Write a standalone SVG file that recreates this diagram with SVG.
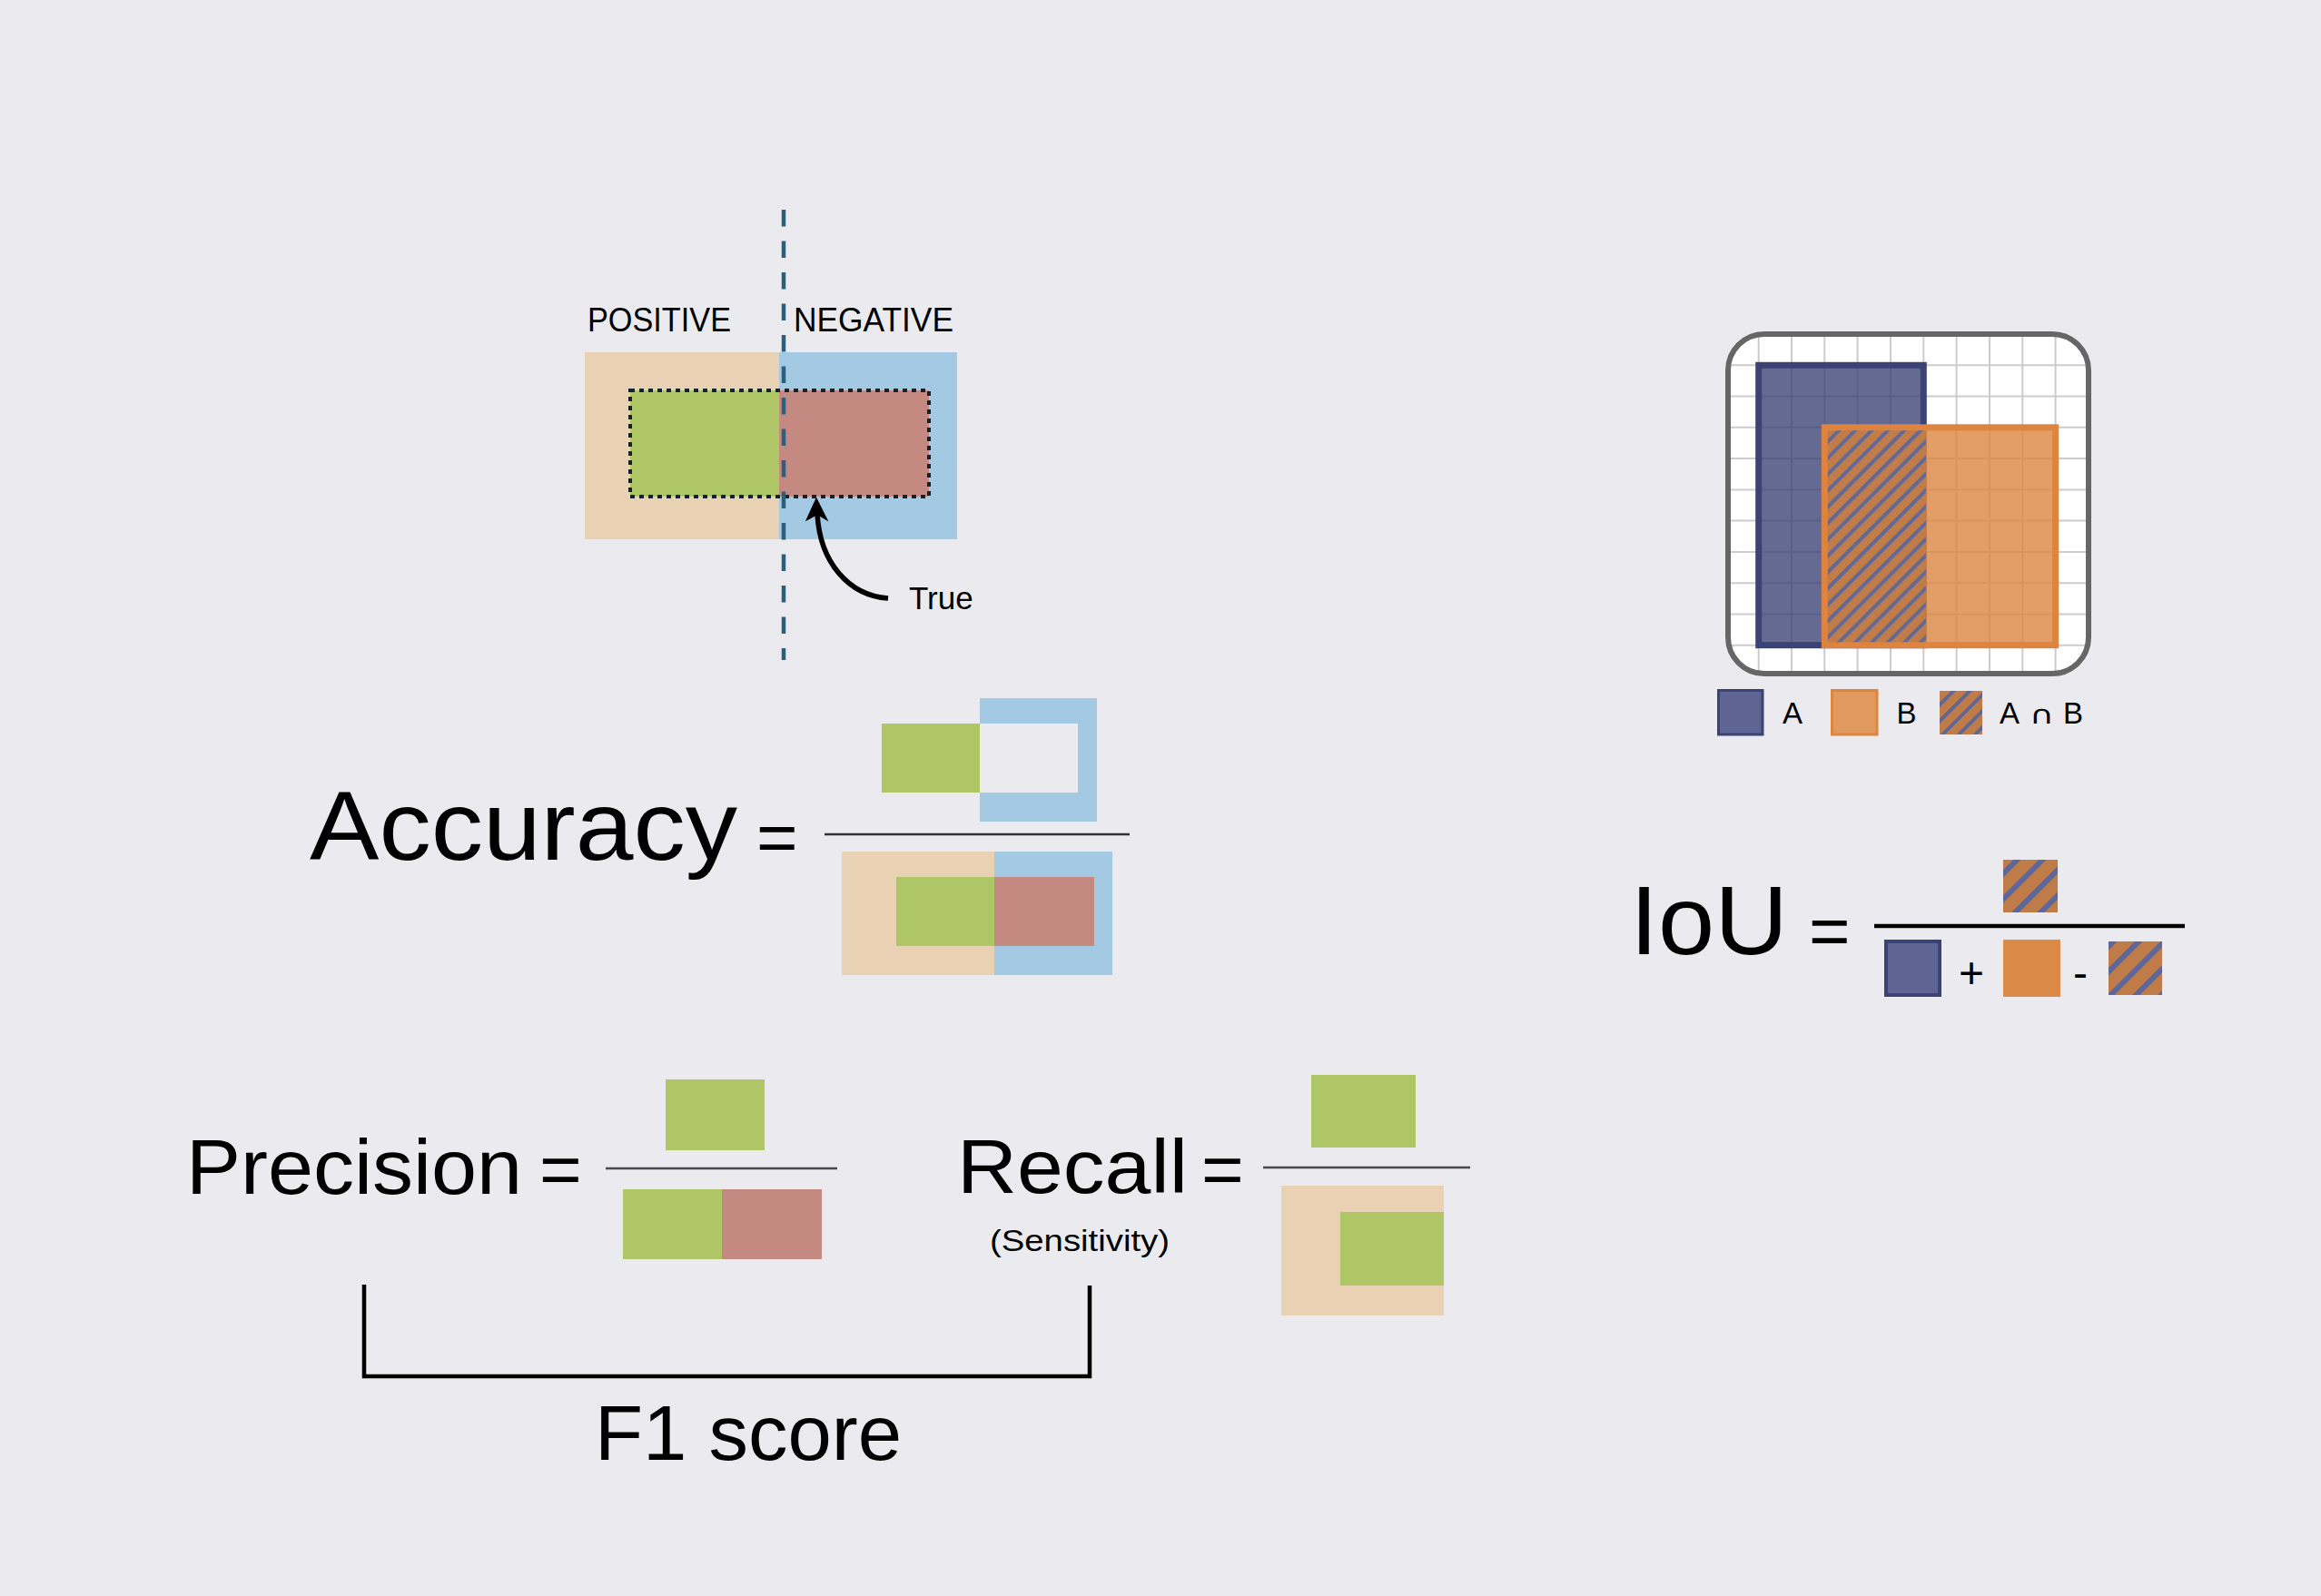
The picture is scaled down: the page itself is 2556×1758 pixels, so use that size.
<svg xmlns="http://www.w3.org/2000/svg" width="2556" height="1758" viewBox="0 0 2556 1758">
<style>
text{font-family:"Liberation Sans",Arial,"DejaVu Sans",sans-serif;fill:#000}
.tan{fill:#E8D2B3}
.blu{fill:#A3C9E3}
.grn{fill:#AEC665}
.red{fill:#C48A82}
.bg{fill:#EBEBEF}
.frac{stroke:#4a4a4a;stroke-width:2.5;fill:none}
.grid line{stroke:#cccccc;stroke-width:2}
</style>
<defs>
<pattern id="hatch" patternUnits="userSpaceOnUse" width="12.7" height="12.7" patternTransform="rotate(45)">
<rect width="12.7" height="12.7" fill="#C07C48"/>
<rect width="4" height="12.7" fill="#5E6797"/>
</pattern>
<pattern id="hatch2" patternUnits="userSpaceOnUse" width="19.8" height="19.8" patternTransform="rotate(45)">
<rect width="19.8" height="19.8" fill="#C07C48"/>
<rect width="6" height="19.8" fill="#5E6797"/>
</pattern>
<clipPath id="boxclip"><rect x="1903" y="368" width="397" height="374" rx="40"/></clipPath>
</defs>
<rect width="2556" height="1758" class="bg"/>

<g id="confusion">
<rect x="644" y="388" width="214" height="206" class="tan"/>
<rect x="858" y="388" width="196" height="206" class="blu"/>
<rect x="694" y="430" width="164" height="117" class="grn"/>
<rect x="858" y="430" width="165" height="117" class="red"/>
<rect x="694" y="430" width="329" height="117" fill="none" stroke="#15222C" stroke-width="4" stroke-dasharray="5 5"/>
<line x1="863" y1="231" x2="863" y2="727" stroke="#2B5F7D" stroke-width="4.5" stroke-dasharray="18.5 16"/>
<text x="647" y="365" font-size="37" textLength="158" lengthAdjust="spacingAndGlyphs">POSITIVE</text>
<text x="874" y="365" font-size="37" textLength="176" lengthAdjust="spacingAndGlyphs">NEGATIVE</text>
<text x="1001" y="671" font-size="35">True</text>
</g>

<g id="connectors">
<path d="M978,659 C935,656 903,620 900,566" fill="none" stroke="#000" stroke-width="5.5"/>
<path d="M899,550 L910,572 L900,566 L889,572 Z" fill="#000" stroke="#000" stroke-width="2" stroke-linejoin="miter"/>
<path d="M401,1415 V1516 H1200 V1416" fill="none" stroke="#000" stroke-width="4.5"/>
</g>

<g id="accuracy">
<text x="341" y="947" font-size="108" textLength="471" lengthAdjust="spacingAndGlyphs">Accuracy</text>
<text x="833" y="949" font-size="78">=</text>
<rect x="971" y="797" width="108" height="76" class="grn"/>
<rect x="1079" y="769" width="129" height="136" class="blu"/>
<rect x="1079" y="797" width="108" height="76" class="bg"/>
<line x1="908" y1="919" x2="1244" y2="919" stroke="#333" stroke-width="2.5"/>
<rect x="927" y="938" width="168" height="136" class="tan"/>
<rect x="1095" y="938" width="130" height="136" class="blu"/>
<rect x="987" y="966" width="108" height="76" class="grn"/>
<rect x="1095" y="966" width="110" height="76" class="red"/>
</g>

<g id="precision">
<text x="205" y="1315" font-size="85" textLength="370" lengthAdjust="spacingAndGlyphs">Precision</text>
<text x="594" y="1315" font-size="80">=</text>
<rect x="733" y="1189" width="109" height="78" class="grn"/>
<line x1="667" y1="1287" x2="922" y2="1287" class="frac"/>
<rect x="686" y="1310" width="109" height="77" class="grn"/>
<rect x="795" y="1310" width="110" height="77" class="red"/>
</g>

<g id="recall">
<text x="1054" y="1314" font-size="84" textLength="254" lengthAdjust="spacingAndGlyphs">Recall</text>
<text x="1323" y="1315" font-size="80">=</text>
<text x="1090" y="1378" font-size="32.5" textLength="198" lengthAdjust="spacingAndGlyphs">(Sensitivity)</text>
<rect x="1444" y="1184" width="115" height="80" class="grn"/>
<line x1="1391" y1="1286" x2="1619" y2="1286" class="frac"/>
<rect x="1411" y="1306" width="179" height="143" class="tan"/>
<rect x="1476" y="1335" width="114" height="81" class="grn"/>
</g>

<g id="f1">
<text x="655" y="1608" font-size="85" textLength="338" lengthAdjust="spacingAndGlyphs">F1 score</text>
</g>

<g id="iou-diagram">
<rect x="1903" y="368" width="397" height="374" rx="40" fill="#FFFFFF"/>
<g class="grid" clip-path="url(#boxclip)">
<line x1="1936.7" y1="360" x2="1936.7" y2="750"/>
<line x1="1973.0" y1="360" x2="1973.0" y2="750"/>
<line x1="2009.3" y1="360" x2="2009.3" y2="750"/>
<line x1="2045.6" y1="360" x2="2045.6" y2="750"/>
<line x1="2082.0" y1="360" x2="2082.0" y2="750"/>
<line x1="2118.3" y1="360" x2="2118.3" y2="750"/>
<line x1="2154.6" y1="360" x2="2154.6" y2="750"/>
<line x1="2191.0" y1="360" x2="2191.0" y2="750"/>
<line x1="2227.3" y1="360" x2="2227.3" y2="750"/>
<line x1="2263.6" y1="360" x2="2263.6" y2="750"/>
<line x1="1895" y1="402.3" x2="2310" y2="402.3"/>
<line x1="1895" y1="436.6" x2="2310" y2="436.6"/>
<line x1="1895" y1="470.8" x2="2310" y2="470.8"/>
<line x1="1895" y1="505.1" x2="2310" y2="505.1"/>
<line x1="1895" y1="539.4" x2="2310" y2="539.4"/>
<line x1="1895" y1="573.6" x2="2310" y2="573.6"/>
<line x1="1895" y1="607.9" x2="2310" y2="607.9"/>
<line x1="1895" y1="642.2" x2="2310" y2="642.2"/>
<line x1="1895" y1="676.5" x2="2310" y2="676.5"/>
<line x1="1895" y1="710.7" x2="2310" y2="710.7"/>
</g>
<rect x="1936.7" y="402.3" width="181.6" height="308.4" fill="#3B4275" fill-opacity="0.79" stroke="#3B4275" stroke-width="7"/>
<rect x="2009.3" y="470.8" width="254.3" height="239.9" fill="#DC8440" fill-opacity="0.8" stroke="#DC8440" stroke-width="7"/>
<rect x="2012.8" y="474.3" width="108" height="232.9" fill="url(#hatch)" opacity="0.93"/>
<rect x="1903" y="368" width="397" height="374" rx="40" fill="none" stroke="#666666" stroke-width="6"/>
</g>

<g id="iou-legend">
<rect x="1892.5" y="760.5" width="48.5" height="48.5" fill="#5F6592" stroke="#3B4275" stroke-width="3"/>
<text x="1963" y="797" font-size="33">A</text>
<rect x="2017.5" y="760.5" width="49.5" height="48.5" fill="#E0995E" stroke="#E0853C" stroke-width="3"/>
<text x="2088.5" y="797" font-size="33">B</text>
<rect x="2136" y="761" width="47" height="48" fill="url(#hatch)"/>
<text y="797" font-size="33"><tspan x="2202">A</tspan><tspan x="2235" style="font-family:'DejaVu Sans',sans-serif" font-size="28" textLength="27" lengthAdjust="spacingAndGlyphs">∩</tspan><tspan x="2272">B</tspan></text>
</g>

<g id="iou-formula">
<text x="1795" y="1051" font-size="108" textLength="174" lengthAdjust="spacingAndGlyphs">IoU</text>
<text x="1992" y="1052" font-size="78">=</text>
<rect x="2206" y="947" width="60" height="58" fill="url(#hatch2)"/>
<line x1="2064" y1="1020" x2="2406" y2="1020" stroke="#000" stroke-width="4.5"/>
<rect x="2077" y="1037" width="59" height="59" fill="#5F6592" stroke="#3B4275" stroke-width="4"/>
<text x="2157" y="1088" font-size="48">+</text>
<rect x="2206" y="1035" width="63" height="63" fill="#DC8A48"/>
<text x="2283" y="1088" font-size="48">-</text>
<rect x="2322" y="1037" width="59" height="59" fill="url(#hatch2)"/>
</g>
</svg>
